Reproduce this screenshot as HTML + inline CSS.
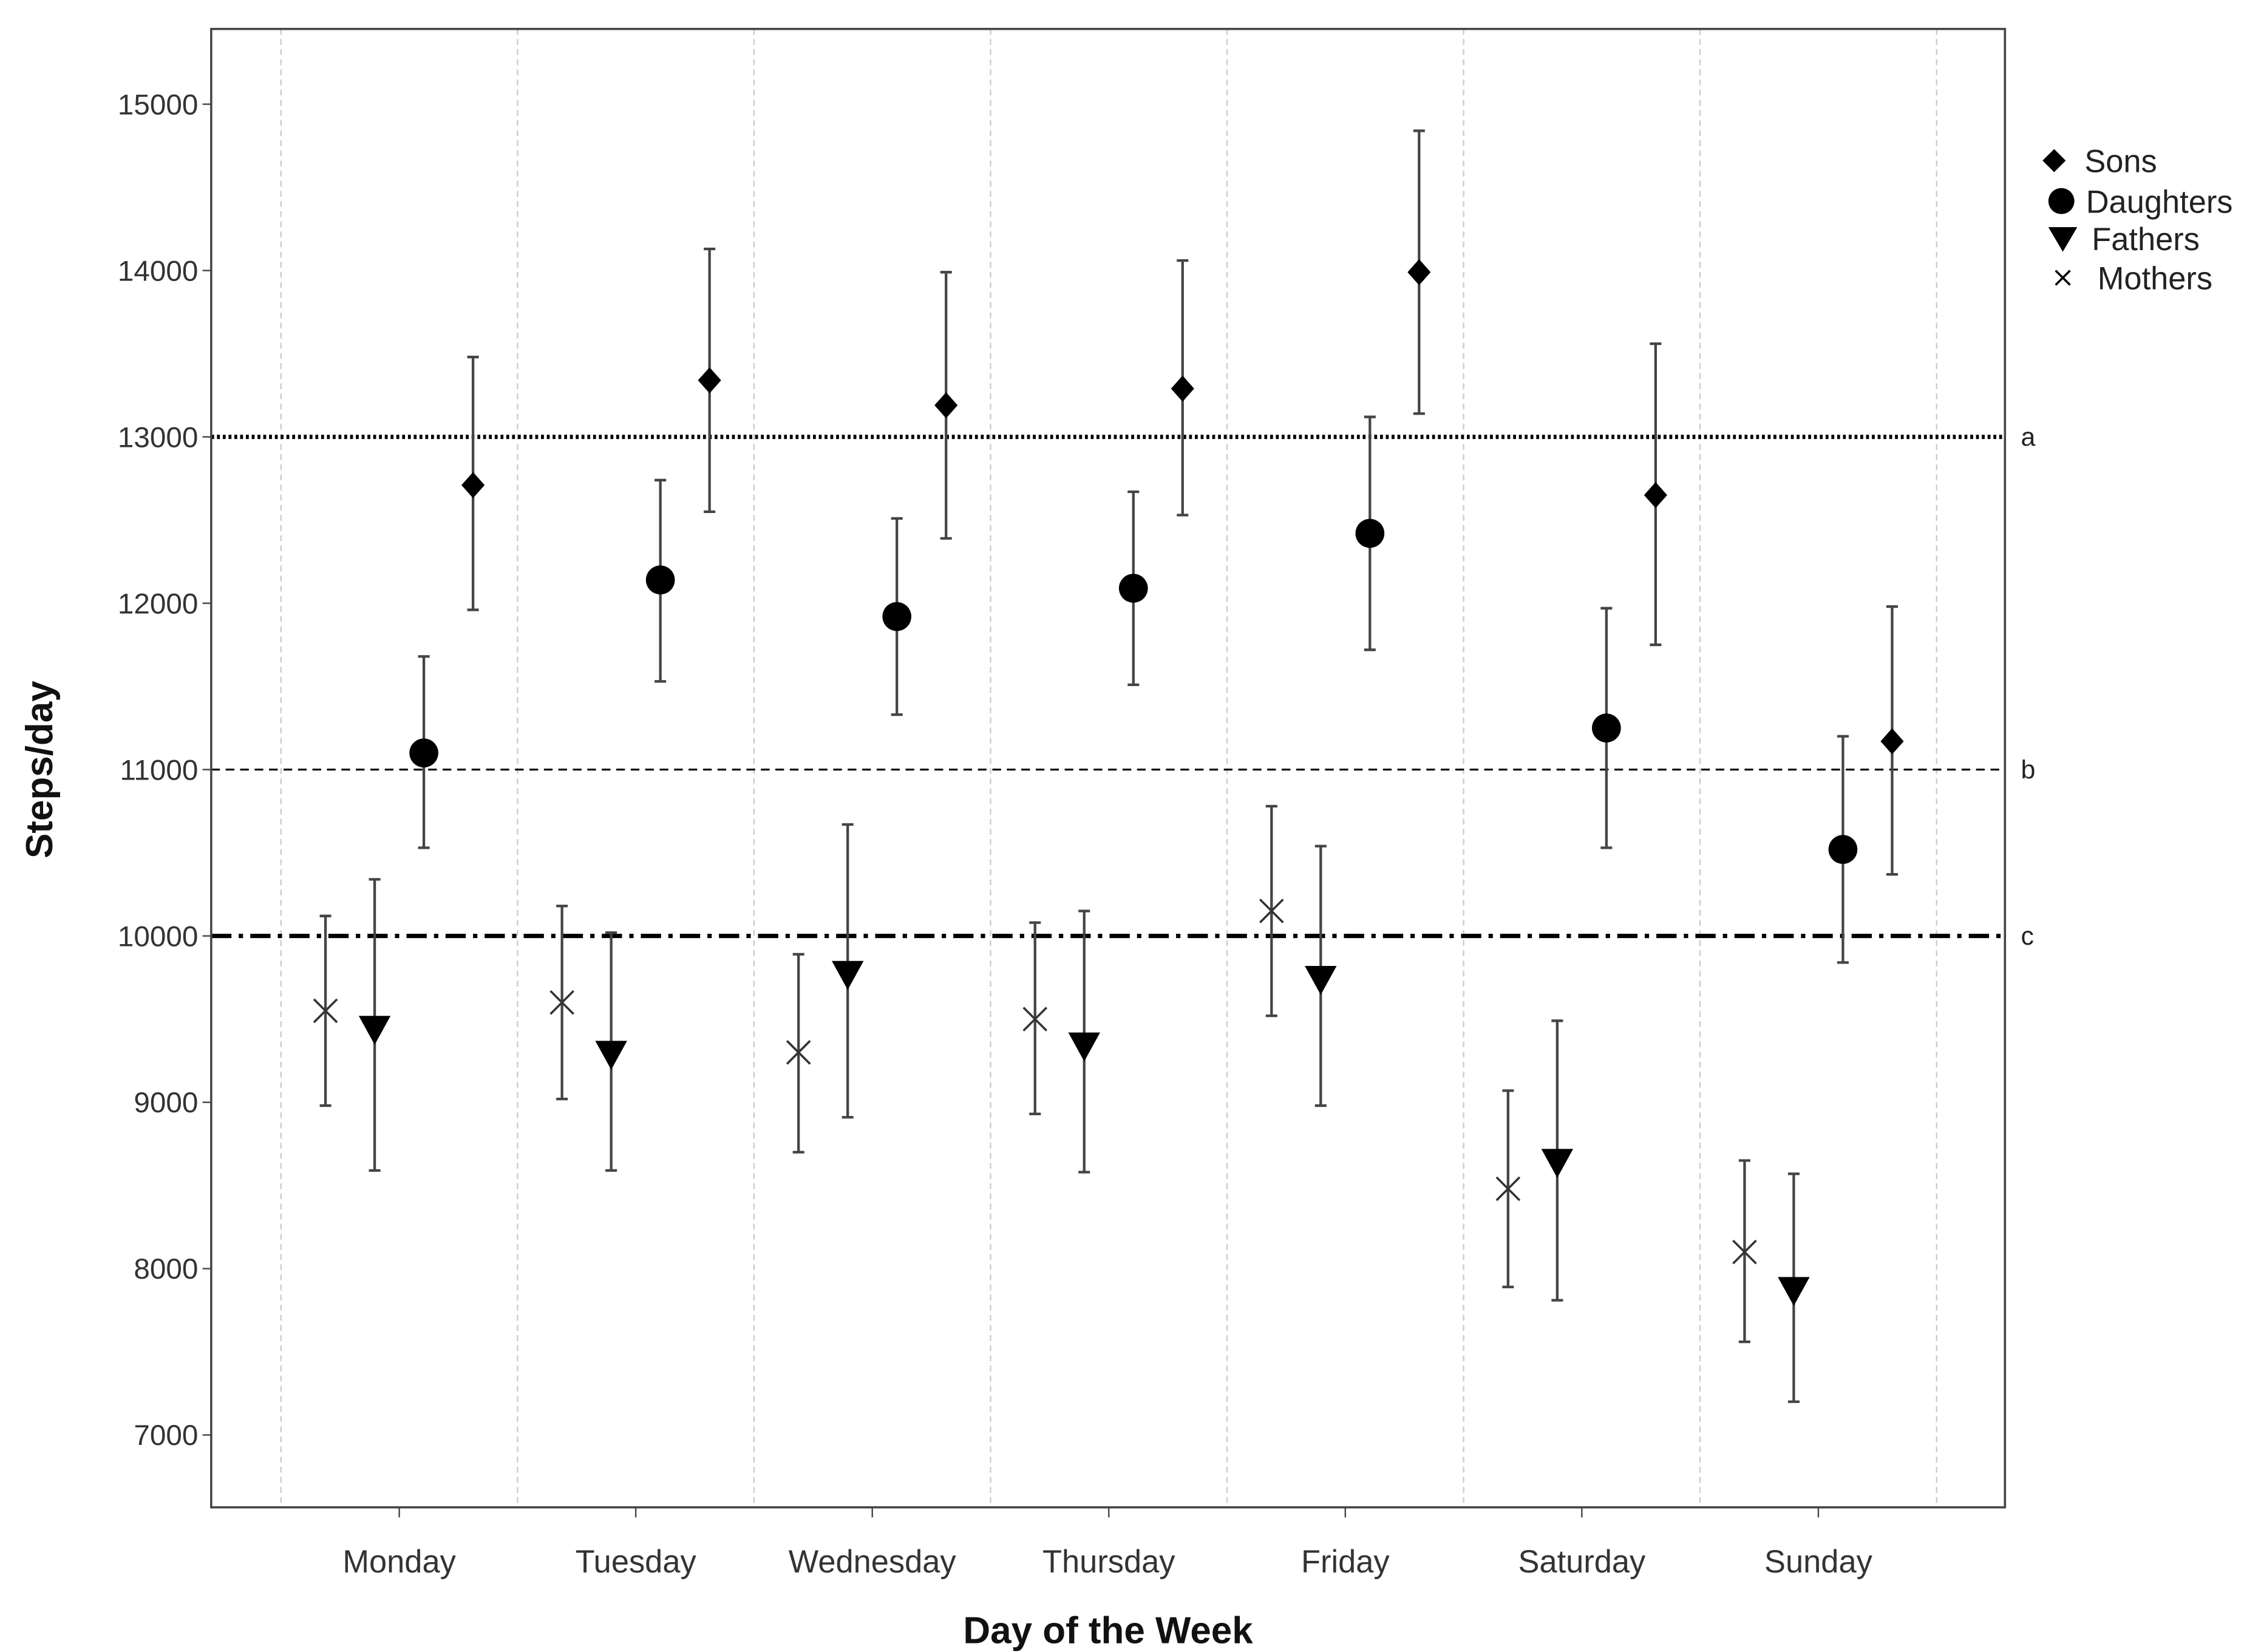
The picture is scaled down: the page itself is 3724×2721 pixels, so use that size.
<!DOCTYPE html>
<html><head><meta charset="utf-8"><style>
html,body{margin:0;padding:0;background:#fff;}
svg{display:block;font-family:"Liberation Sans",Arial,sans-serif;}
</style></head><body>
<svg id="chart" width="3724" height="2721" viewBox="0 0 1563 1142" xmlns="http://www.w3.org/2000/svg">
<rect x="0" y="0" width="1563" height="1142" fill="#fff"/>
<g id="grid"></g>
<g id="reflines"></g>
<rect x="146" y="20" width="1240" height="1022" fill="none" stroke="#444" stroke-width="1.5"/>
<g id="axes"></g>
<g id="marks"></g>
<text transform="translate(36,532) rotate(-90)" text-anchor="middle" font-size="26" font-weight="bold" fill="#111">Steps/day</text>
<text x="766" y="1136" text-anchor="middle" font-size="26" font-weight="bold" fill="#111">Day of the Week</text>
<g font-size="22" fill="#222">
<g><path d="M1420,103 L1428,111 L1420,119 L1412,111 Z" fill="#000"/><text x="1441" y="119">Sons</text></g>
<g><circle cx="1425" cy="139" r="9" fill="#000"/><text x="1442" y="147">Daughters</text></g>
<g><path d="M1416,157 L1436,157 L1426,174 Z" fill="#000"/><text x="1446" y="173">Fathers</text></g>
<g><path d="M1421,187 L1431,197 M1431,187 L1421,197" stroke="#000" stroke-width="1.5"/><text x="1450" y="200">Mothers</text></g>
</g>
</svg>
<script>
const days=["Monday","Tuesday","Wednesday","Thursday","Friday","Saturday","Sunday"];
const yTicks=[7000,8000,9000,10000,11000,12000,13000,14000,15000];
const mothersMean=[9550,9600,9300,9500,10150,8480,8100];
const mothersLo=[8980,9020,8700,8930,9520,7890,7560];
const mothersHi=[10120,10180,9890,10080,10780,9070,8650];
const fathersMean=[9450,9300,9780,9350,9750,8650,7880];
const fathersLo=[8590,8590,8910,8580,8980,7810,7200];
const fathersHi=[10340,10020,10670,10150,10540,9490,8570];
const daughtersMean=[11100,12140,11920,12090,12420,11250,10520];
const daughtersLo=[10530,11530,11330,11510,11720,10530,9840];
const daughtersHi=[11680,12740,12510,12670,13120,11970,11200];
const sonsMean=[12710,13340,13190,13290,13990,12650,11170];
const sonsLo=[11960,12550,12390,12530,13140,11750,10370];
const sonsHi=[13480,14130,13990,14060,14840,13560,11980];
const refValues=[13000,11000,10000];
const refLabels=["a","b","c"];

const NS="http://www.w3.org/2000/svg";
const y=v=>72+(15000-v)*0.115;
const x=i=>276+i*163.5;
function mk(tag,attrs,parent){const e=document.createElementNS(NS,tag);for(const k in attrs)e.setAttribute(k,attrs[k]);parent.appendChild(e);return e;}
const grid=document.getElementById('grid'),axes=document.getElementById('axes'),marks=document.getElementById('marks'),refs=document.getElementById('reflines');
for(let i=0;i<=days.length;i++){
  const gx=x(i)-81.75;
  const l=mk('line',{x1:gx,x2:gx,y1:20,y2:1042,stroke:'#ccc','stroke-width':1,'stroke-dasharray':'4,3'},grid);
  
  
}
yTicks.forEach(v=>{
  const t=mk('line',{x1:140,x2:146,y1:y(v),y2:y(v),stroke:'#444','stroke-width':1},axes);
  
  
  const tx=mk('text',{x:137,y:y(v)+7,'text-anchor':'end','font-size':20,fill:'#333'},axes);
  tx.textContent=v;
  
  
});
days.forEach((d,i)=>{
  const t=mk('line',{x1:x(i),x2:x(i),y1:1042,y2:1049,stroke:'#444','stroke-width':1},axes);
  
  
  const tx=mk('text',{x:x(i),y:1087,'text-anchor':'middle','font-size':22,fill:'#333'},axes);
  tx.textContent=d;
  
  
});
const styles=[{w:3,d:'2,2'},{w:1.3,d:'6,4'},{w:3,d:'14,5,3,5'}];
refValues.forEach((v,i)=>{
  const l=mk('line',{x1:146,x2:1386,y1:y(v),y2:y(v),stroke:'#000','stroke-width':styles[i].w,'stroke-dasharray':styles[i].d},refs);
  
  
  const t=mk('text',{x:1397,y:y(v)+6,'font-size':18,fill:'#222'},refs);
  t.textContent=refLabels[i];
  
  
});
function series(name,off,mean,lo,hi,shape){
  mean.forEach((m,i)=>{
    const cx=x(i)+off;
    const g=mk('g',{},marks);
    
    
    mk('line',{x1:cx,x2:cx,y1:y(hi[i]),y2:y(lo[i]),stroke:'#444','stroke-width':1.8},g);
    mk('line',{x1:cx-4,x2:cx+4,y1:y(hi[i]),y2:y(hi[i]),stroke:'#444','stroke-width':1.8},g);
    mk('line',{x1:cx-4,x2:cx+4,y1:y(lo[i]),y2:y(lo[i]),stroke:'#444','stroke-width':1.8},g);
    const cy=y(m);
    if(shape==='x')mk('path',{d:`M${cx-8},${cy-8}L${cx+8},${cy+8}M${cx+8},${cy-8}L${cx-8},${cy+8}`,stroke:'#333','stroke-width':1.5},g);
    else if(shape==='tri')mk('path',{d:`M${cx-11},${cy-8}L${cx+11},${cy-8}L${cx},${cy+12}Z`,fill:'#000'},g);
    else if(shape==='circ')mk('circle',{cx:cx,cy:cy,r:10,fill:'#000'},g);
    else mk('path',{d:`M${cx},${cy-9}L${cx+8},${cy}L${cx},${cy+9}L${cx-8},${cy}Z`,fill:'#000'},g);
  });
}
series('mothers',-51,mothersMean,mothersLo,mothersHi,'x');
series('fathers',-17,fathersMean,fathersLo,fathersHi,'tri');
series('daughters',17,daughtersMean,daughtersLo,daughtersHi,'circ');
series('sons',51,sonsMean,sonsLo,sonsHi,'dia');
</script>
</body></html>
